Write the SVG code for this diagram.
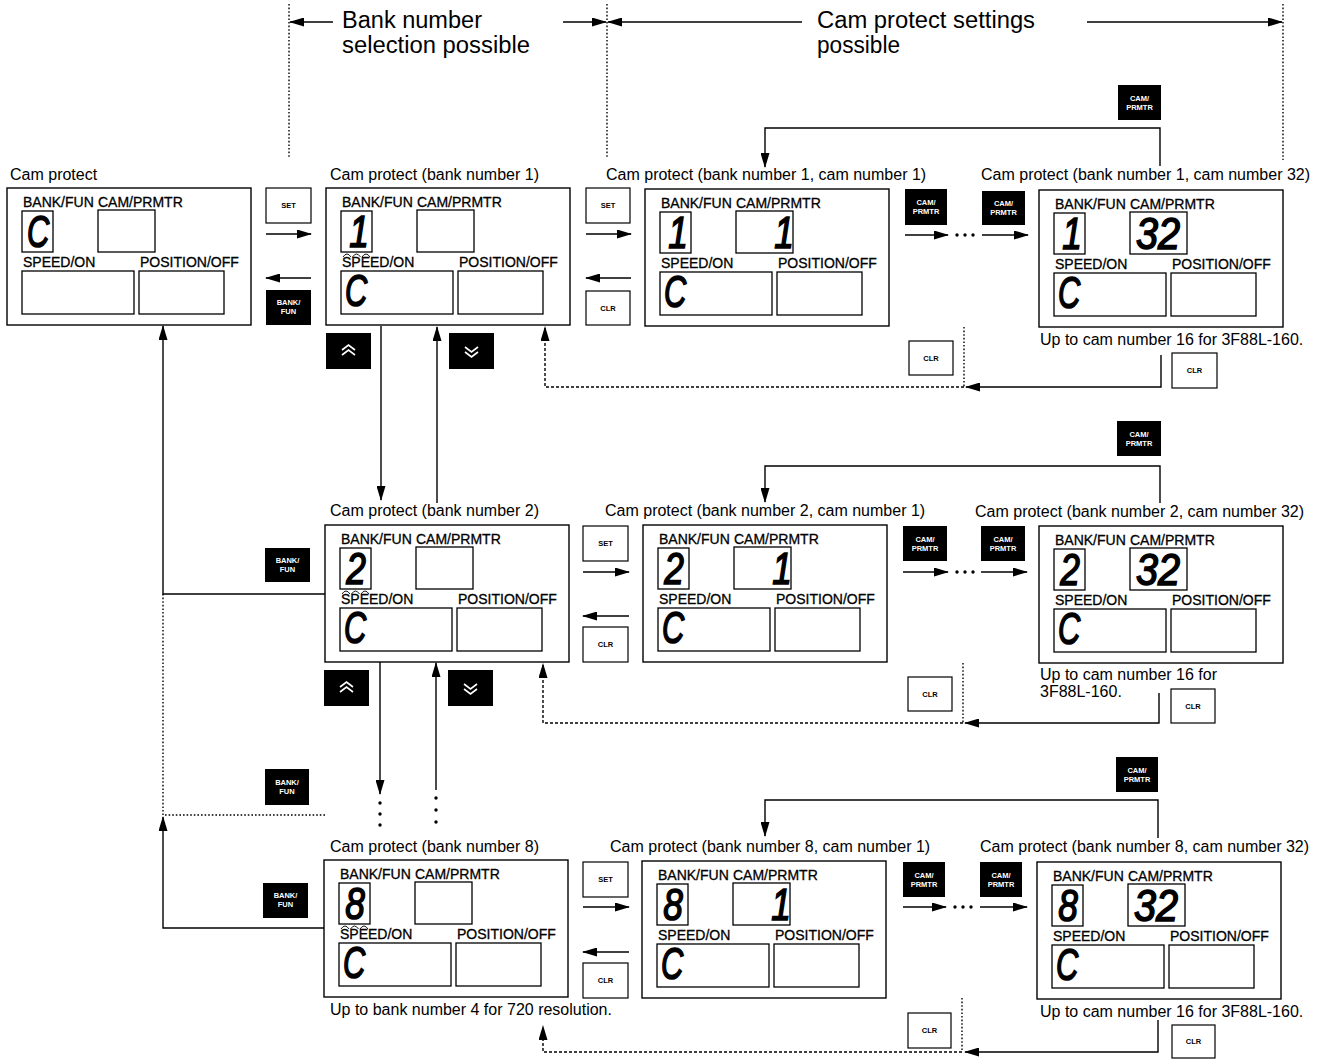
<svg xmlns="http://www.w3.org/2000/svg" width="1322" height="1061" viewBox="0 0 1322 1061">
<defs>
<style>
text{font-family:"Liberation Sans",Arial,Helvetica,sans-serif;fill:#000}
.hd{font-size:23px}
.tt{font-size:16px}
.lb{font-size:14px;stroke:#000;stroke-width:0.3}
.box{fill:#fff;stroke:#000;stroke-width:1.4}
.in{fill:none;stroke:#000;stroke-width:1.3}
.dg{font-size:44px;font-style:italic;stroke:#000;stroke-width:1.6;text-anchor:middle}
.wk{fill:#fff;stroke:#000;stroke-width:1.2}
.bk{fill:#000}
.kt{font-size:7.5px;font-weight:bold;text-anchor:middle}
.kw{font-size:7.5px;font-weight:bold;text-anchor:middle;fill:#fff}
.ln{fill:none;stroke:#000;stroke-width:1.4}
.da{stroke-dasharray:3 2}
.dt{stroke-dasharray:1.6 2}
.ch{fill:none;stroke:#fff;stroke-width:1.6}
.fl{fill:none;stroke:#000;stroke-width:0.9}
</style>
<marker id="ah" viewBox="0 0 15 9" refX="14" refY="4.5" markerWidth="15" markerHeight="9" markerUnits="userSpaceOnUse" orient="auto"><path d="M0,0 L15,4.5 L0,9 z" fill="#000"/></marker>
<g id="frm">
<rect class="box" x="0" y="0" width="244" height="137"/>
<rect class="in" x="15" y="23" width="31" height="41"/>
<rect class="in" x="91" y="22" width="57" height="42"/>
<rect class="in" x="15" y="83" width="112" height="43"/>
<rect class="in" x="132" y="83" width="85" height="43"/>
</g>
<path id="flash" class="fl" d="M17,69 Q21,63 25,69 M26.5,69 Q30.5,63 34.5,69 M36,69 Q40,63 44,69"/>
</defs>
<rect width="1322" height="1061" fill="#fff"/>

<g id="header">
<line class="ln dt" x1="289" y1="4" x2="289" y2="158"/>
<line class="ln dt" x1="607" y1="4" x2="607" y2="158"/>
<line class="ln dt" x1="1283" y1="4" x2="1283" y2="160"/>
<line class="ln" x1="333" y1="22" x2="290" y2="22" marker-end="url(#ah)"/>
<line class="ln" x1="563" y1="22" x2="606" y2="22" marker-end="url(#ah)"/>
<line class="ln" x1="802" y1="22" x2="608" y2="22" marker-end="url(#ah)"/>
<line class="ln" x1="1087" y1="22" x2="1282" y2="22" marker-end="url(#ah)"/>
<text class="hd" x="342" y="28" textLength="140" lengthAdjust="spacingAndGlyphs">Bank number</text>
<text class="hd" x="342" y="53" textLength="188" lengthAdjust="spacingAndGlyphs">selection possible</text>
<text class="hd" x="817" y="28" textLength="218" lengthAdjust="spacingAndGlyphs">Cam protect settings</text>
<text class="hd" x="817" y="53" textLength="83" lengthAdjust="spacingAndGlyphs">possible</text>
</g>

<g id="connectors">
<line class="ln" x1="266" y1="234" x2="311" y2="234" marker-end="url(#ah)"/>
<line class="ln" x1="311" y1="278" x2="266" y2="278" marker-end="url(#ah)"/>
<line class="ln" x1="586" y1="234" x2="631" y2="234" marker-end="url(#ah)"/>
<line class="ln" x1="631" y1="278" x2="586" y2="278" marker-end="url(#ah)"/>
<line class="ln" x1="905" y1="235" x2="948" y2="235" marker-end="url(#ah)"/>
<circle cx="957" cy="235" r="1.7"/><circle cx="965" cy="235" r="1.7"/><circle cx="973" cy="235" r="1.7"/>
<line class="ln" x1="982" y1="235" x2="1028" y2="235" marker-end="url(#ah)"/>
<polyline class="ln" points="1160,166 1160,128 765,128 765,167" marker-end="url(#ah)"/>
<line class="ln" x1="381" y1="326" x2="381" y2="500" marker-end="url(#ah)"/>
<line class="ln" x1="437" y1="503" x2="437" y2="327" marker-end="url(#ah)"/>
<line class="ln dt" x1="964" y1="327" x2="964" y2="387"/>
<polyline class="ln da" points="964,387 545,387 545,327" marker-end="url(#ah)"/>
<polyline class="ln" points="1161,355 1161,387 966,387" marker-end="url(#ah)"/>

<polyline class="ln" points="325,594 163,594 163,326" marker-end="url(#ah)"/>
<line class="ln dt" x1="163" y1="594" x2="163" y2="815"/>
<line class="ln dt" x1="325" y1="815" x2="163" y2="815"/>
<line class="ln" x1="583" y1="572" x2="629" y2="572" marker-end="url(#ah)"/>
<line class="ln" x1="629" y1="616" x2="583" y2="616" marker-end="url(#ah)"/>
<line class="ln" x1="903" y1="572" x2="948" y2="572" marker-end="url(#ah)"/>
<circle cx="957" cy="572" r="1.7"/><circle cx="965" cy="572" r="1.7"/><circle cx="973" cy="572" r="1.7"/>
<line class="ln" x1="981" y1="572" x2="1027" y2="572" marker-end="url(#ah)"/>
<polyline class="ln" points="1160,503 1160,466 765,466 765,502" marker-end="url(#ah)"/>
<line class="ln" x1="380" y1="662" x2="380" y2="794" marker-end="url(#ah)"/>
<circle cx="380" cy="803" r="1.7"/><circle cx="380" cy="814" r="1.7"/><circle cx="380" cy="825" r="1.7"/>
<line class="ln" x1="436" y1="790" x2="436" y2="663" marker-end="url(#ah)"/>
<circle cx="436" cy="798" r="1.7"/><circle cx="436" cy="810" r="1.7"/><circle cx="436" cy="822" r="1.7"/>
<line class="ln dt" x1="963" y1="663" x2="963" y2="723"/>
<polyline class="ln da" points="963,723 543,723 543,664" marker-end="url(#ah)"/>
<polyline class="ln" points="1159,693 1159,723 965,723" marker-end="url(#ah)"/>

<polyline class="ln" points="324,928 163,928 163,817" marker-end="url(#ah)"/>
<line class="ln" x1="583" y1="907" x2="629" y2="907" marker-end="url(#ah)"/>
<line class="ln" x1="629" y1="952" x2="583" y2="952" marker-end="url(#ah)"/>
<line class="ln" x1="903" y1="907" x2="946" y2="907" marker-end="url(#ah)"/>
<circle cx="955" cy="907" r="1.7"/><circle cx="963" cy="907" r="1.7"/><circle cx="971" cy="907" r="1.7"/>
<line class="ln" x1="980" y1="907" x2="1027" y2="907" marker-end="url(#ah)"/>
<polyline class="ln" points="1158,838 1158,800 765,800 765,836" marker-end="url(#ah)"/>
<line class="ln dt" x1="962" y1="998" x2="962" y2="1052"/>
<polyline class="ln da" points="962,1052 543,1052 543,1026" marker-end="url(#ah)"/>
<polyline class="ln" points="1158,1020 1158,1052 965,1052" marker-end="url(#ah)"/>
</g>

<g id="keys">
<g id="k-set-1a"><rect class="wk" x="266" y="188" width="45" height="35"/><text class="kt" x="288.5" y="208">SET</text></g>
<g id="k-bank-1"><rect class="bk" x="266" y="290" width="45" height="35"/><text class="kw" x="288.5" y="305">BANK/</text><text class="kw" x="288.5" y="314">FUN</text></g>
<g id="k-set-1b"><rect class="wk" x="586" y="188" width="44" height="35"/><text class="kt" x="608" y="208">SET</text></g>
<g id="k-clr-1a"><rect class="wk" x="586" y="291" width="44" height="34"/><text class="kt" x="608" y="310.5">CLR</text></g>
<g id="k-up-1"><rect class="bk" x="326" y="333" width="45" height="36"/><path class="ch" d="M342,350 L348.5,345 L355,350 M342,355 L348.5,350 L355,355"/></g>
<g id="k-down-1"><rect class="bk" x="449" y="333" width="45" height="36"/><path class="ch" d="M465,347 L471.5,352 L478,347 M465,352 L471.5,357 L478,352"/></g>
<g id="k-cam-1a"><rect class="bk" x="905" y="189" width="42" height="36"/><text class="kw" x="926" y="205">CAM/</text><text class="kw" x="926" y="214">PRMTR</text></g>
<g id="k-cam-1b"><rect class="bk" x="982" y="191" width="43" height="34"/><text class="kw" x="1003.5" y="206">CAM/</text><text class="kw" x="1003.5" y="215">PRMTR</text></g>
<g id="k-cam-1t"><rect class="bk" x="1118" y="85" width="43" height="35"/><text class="kw" x="1139.5" y="101">CAM/</text><text class="kw" x="1139.5" y="110">PRMTR</text></g>
<g id="k-clr-1b"><rect class="wk" x="909" y="341" width="44" height="34"/><text class="kt" x="931" y="360.5">CLR</text></g>
<g id="k-clr-1c"><rect class="wk" x="1172" y="353" width="45" height="35"/><text class="kt" x="1194.5" y="373">CLR</text></g>

<g id="k-bank-2a"><rect class="bk" x="265" y="548" width="45" height="34"/><text class="kw" x="287.5" y="563">BANK/</text><text class="kw" x="287.5" y="572">FUN</text></g>
<g id="k-set-2"><rect class="wk" x="583" y="526" width="45" height="35"/><text class="kt" x="605.5" y="546">SET</text></g>
<g id="k-clr-2a"><rect class="wk" x="583" y="627" width="45" height="35"/><text class="kt" x="605.5" y="647">CLR</text></g>
<g id="k-up-2"><rect class="bk" x="324" y="670" width="45" height="36"/><path class="ch" d="M340,687 L346.5,682 L353,687 M340,692 L346.5,687 L353,692"/></g>
<g id="k-down-2"><rect class="bk" x="448" y="670" width="45" height="36"/><path class="ch" d="M464,684 L470.5,689 L477,684 M464,689 L470.5,694 L477,689"/></g>
<g id="k-cam-2a"><rect class="bk" x="903" y="526" width="44" height="35"/><text class="kw" x="925" y="542">CAM/</text><text class="kw" x="925" y="551">PRMTR</text></g>
<g id="k-cam-2b"><rect class="bk" x="981" y="526" width="44" height="35"/><text class="kw" x="1003" y="542">CAM/</text><text class="kw" x="1003" y="551">PRMTR</text></g>
<g id="k-cam-2t"><rect class="bk" x="1117" y="421" width="44" height="35"/><text class="kw" x="1139" y="437">CAM/</text><text class="kw" x="1139" y="446">PRMTR</text></g>
<g id="k-clr-2b"><rect class="wk" x="908" y="677" width="44" height="34"/><text class="kt" x="930" y="696.5">CLR</text></g>
<g id="k-clr-2c"><rect class="wk" x="1171" y="689" width="44" height="34"/><text class="kt" x="1193" y="708.5">CLR</text></g>
<g id="k-bank-2b"><rect class="bk" x="265" y="769" width="44" height="36"/><text class="kw" x="287" y="785">BANK/</text><text class="kw" x="287" y="794">FUN</text></g>

<g id="k-bank-3"><rect class="bk" x="263" y="883" width="45" height="35"/><text class="kw" x="285.5" y="898">BANK/</text><text class="kw" x="285.5" y="907">FUN</text></g>
<g id="k-set-3"><rect class="wk" x="583" y="862" width="45" height="35"/><text class="kt" x="605.5" y="882">SET</text></g>
<g id="k-clr-3a"><rect class="wk" x="583" y="963" width="45" height="35"/><text class="kt" x="605.5" y="983">CLR</text></g>
<g id="k-cam-3a"><rect class="bk" x="903" y="862" width="42" height="35"/><text class="kw" x="924" y="878">CAM/</text><text class="kw" x="924" y="887">PRMTR</text></g>
<g id="k-cam-3b"><rect class="bk" x="980" y="862" width="42" height="35"/><text class="kw" x="1001" y="878">CAM/</text><text class="kw" x="1001" y="887">PRMTR</text></g>
<g id="k-cam-3t"><rect class="bk" x="1116" y="757" width="42" height="35"/><text class="kw" x="1137" y="773">CAM/</text><text class="kw" x="1137" y="782">PRMTR</text></g>
<g id="k-clr-3b"><rect class="wk" x="908" y="1013" width="43" height="35"/><text class="kt" x="929.5" y="1033">CLR</text></g>
<g id="k-clr-3c"><rect class="wk" x="1172" y="1025" width="43" height="33"/><text class="kt" x="1193.5" y="1044">CLR</text></g>
</g>

<g id="node-cam-protect" transform="translate(7,188)">
<text class="tt" x="3" y="-8">Cam protect</text>
<use href="#frm"/>
<text class="lb" x="16" y="19">BANK/FUN</text><text class="lb" x="91" y="19">CAM/PRMTR</text>
<text class="lb" x="16" y="79">SPEED/ON</text><text class="lb" x="133" y="79">POSITION/OFF</text>
<text class="dg" transform="translate(31,59) scale(0.7,1)">C</text>
</g>

<g id="node-bank1" transform="translate(326,188)">
<text class="tt" x="4" y="-8">Cam protect (bank number 1)</text>
<use href="#frm"/>
<text class="lb" x="16" y="19">BANK/FUN</text><text class="lb" x="91" y="19">CAM/PRMTR</text>
<text class="lb" x="16" y="79">SPEED/ON</text><text class="lb" x="133" y="79">POSITION/OFF</text>
<text class="dg" transform="translate(33,59) scale(0.8,1)">1</text>
<use href="#flash"/>
<text class="dg" transform="translate(30,118) scale(0.7,1)">C</text>
</g>

<g id="node-bank1-cam1" transform="translate(645,189)">
<text class="tt" x="-39" y="-9">Cam protect (bank number 1, cam number 1)</text>
<use href="#frm"/>
<text class="lb" x="16" y="19">BANK/FUN</text><text class="lb" x="91" y="19">CAM/PRMTR</text>
<text class="lb" x="16" y="79">SPEED/ON</text><text class="lb" x="133" y="79">POSITION/OFF</text>
<text class="dg" transform="translate(33,59) scale(0.8,1)">1</text>
<text class="dg" transform="translate(139,59) scale(0.8,1)">1</text>
<text class="dg" transform="translate(30,118) scale(0.7,1)">C</text>
</g>

<g id="node-bank1-cam32" transform="translate(1039,190)">
<text class="tt" x="-58" y="-10">Cam protect (bank number 1, cam number 32)</text>
<use href="#frm"/>
<text class="lb" x="16" y="19">BANK/FUN</text><text class="lb" x="91" y="19">CAM/PRMTR</text>
<text class="lb" x="16" y="79">SPEED/ON</text><text class="lb" x="133" y="79">POSITION/OFF</text>
<text class="dg" transform="translate(33,59) scale(0.8,1)">1</text>
<text class="dg" transform="translate(119,59) scale(0.9,1)">32</text>
<text class="dg" transform="translate(30,118) scale(0.7,1)">C</text>
<text class="tt" x="1" y="155">Up to cam number 16 for 3F88L-160.</text>
</g>

<g id="node-bank2" transform="translate(325,525)">
<text class="tt" x="5" y="-9">Cam protect (bank number 2)</text>
<use href="#frm"/>
<text class="lb" x="16" y="19">BANK/FUN</text><text class="lb" x="91" y="19">CAM/PRMTR</text>
<text class="lb" x="16" y="79">SPEED/ON</text><text class="lb" x="133" y="79">POSITION/OFF</text>
<text class="dg" transform="translate(31,59) scale(0.8,1)">2</text>
<use href="#flash"/>
<text class="dg" transform="translate(30,118) scale(0.7,1)">C</text>
</g>

<g id="node-bank2-cam1" transform="translate(643,525)">
<text class="tt" x="-38" y="-9">Cam protect (bank number 2, cam number 1)</text>
<use href="#frm"/>
<text class="lb" x="16" y="19">BANK/FUN</text><text class="lb" x="91" y="19">CAM/PRMTR</text>
<text class="lb" x="16" y="79">SPEED/ON</text><text class="lb" x="133" y="79">POSITION/OFF</text>
<text class="dg" transform="translate(31,59) scale(0.8,1)">2</text>
<text class="dg" transform="translate(139,59) scale(0.8,1)">1</text>
<text class="dg" transform="translate(30,118) scale(0.7,1)">C</text>
</g>

<g id="node-bank2-cam32" transform="translate(1039,526)">
<text class="tt" x="-64" y="-9">Cam protect (bank number 2, cam number 32)</text>
<use href="#frm"/>
<text class="lb" x="16" y="19">BANK/FUN</text><text class="lb" x="91" y="19">CAM/PRMTR</text>
<text class="lb" x="16" y="79">SPEED/ON</text><text class="lb" x="133" y="79">POSITION/OFF</text>
<text class="dg" transform="translate(31,59) scale(0.8,1)">2</text>
<text class="dg" transform="translate(119,59) scale(0.9,1)">32</text>
<text class="dg" transform="translate(30,118) scale(0.7,1)">C</text>
<text class="tt" x="1" y="154">Up to cam number 16 for</text>
<text class="tt" x="1" y="171">3F88L-160.</text>
</g>

<g id="node-bank8" transform="translate(324,860)">
<text class="tt" x="6" y="-8">Cam protect (bank number 8)</text>
<use href="#frm"/>
<text class="lb" x="16" y="19">BANK/FUN</text><text class="lb" x="91" y="19">CAM/PRMTR</text>
<text class="lb" x="16" y="79">SPEED/ON</text><text class="lb" x="133" y="79">POSITION/OFF</text>
<text class="dg" transform="translate(31,59) scale(0.8,1)">8</text>
<use href="#flash"/>
<text class="dg" transform="translate(30,118) scale(0.7,1)">C</text>
<text class="tt" x="6" y="155">Up to bank number 4 for 720 resolution.</text>
</g>

<g id="node-bank8-cam1" transform="translate(642,861)">
<text class="tt" x="-32" y="-9">Cam protect (bank number 8, cam number 1)</text>
<use href="#frm"/>
<text class="lb" x="16" y="19">BANK/FUN</text><text class="lb" x="91" y="19">CAM/PRMTR</text>
<text class="lb" x="16" y="79">SPEED/ON</text><text class="lb" x="133" y="79">POSITION/OFF</text>
<text class="dg" transform="translate(31,59) scale(0.8,1)">8</text>
<text class="dg" transform="translate(139,59) scale(0.8,1)">1</text>
<text class="dg" transform="translate(30,118) scale(0.7,1)">C</text>
</g>

<g id="node-bank8-cam32" transform="translate(1037,862)">
<text class="tt" x="-57" y="-10">Cam protect (bank number 8, cam number 32)</text>
<use href="#frm"/>
<text class="lb" x="16" y="19">BANK/FUN</text><text class="lb" x="91" y="19">CAM/PRMTR</text>
<text class="lb" x="16" y="79">SPEED/ON</text><text class="lb" x="133" y="79">POSITION/OFF</text>
<text class="dg" transform="translate(31,59) scale(0.8,1)">8</text>
<text class="dg" transform="translate(119,59) scale(0.9,1)">32</text>
<text class="dg" transform="translate(30,118) scale(0.7,1)">C</text>
<text class="tt" x="3" y="155">Up to cam number 16 for 3F88L-160.</text>
</g>
</svg>
